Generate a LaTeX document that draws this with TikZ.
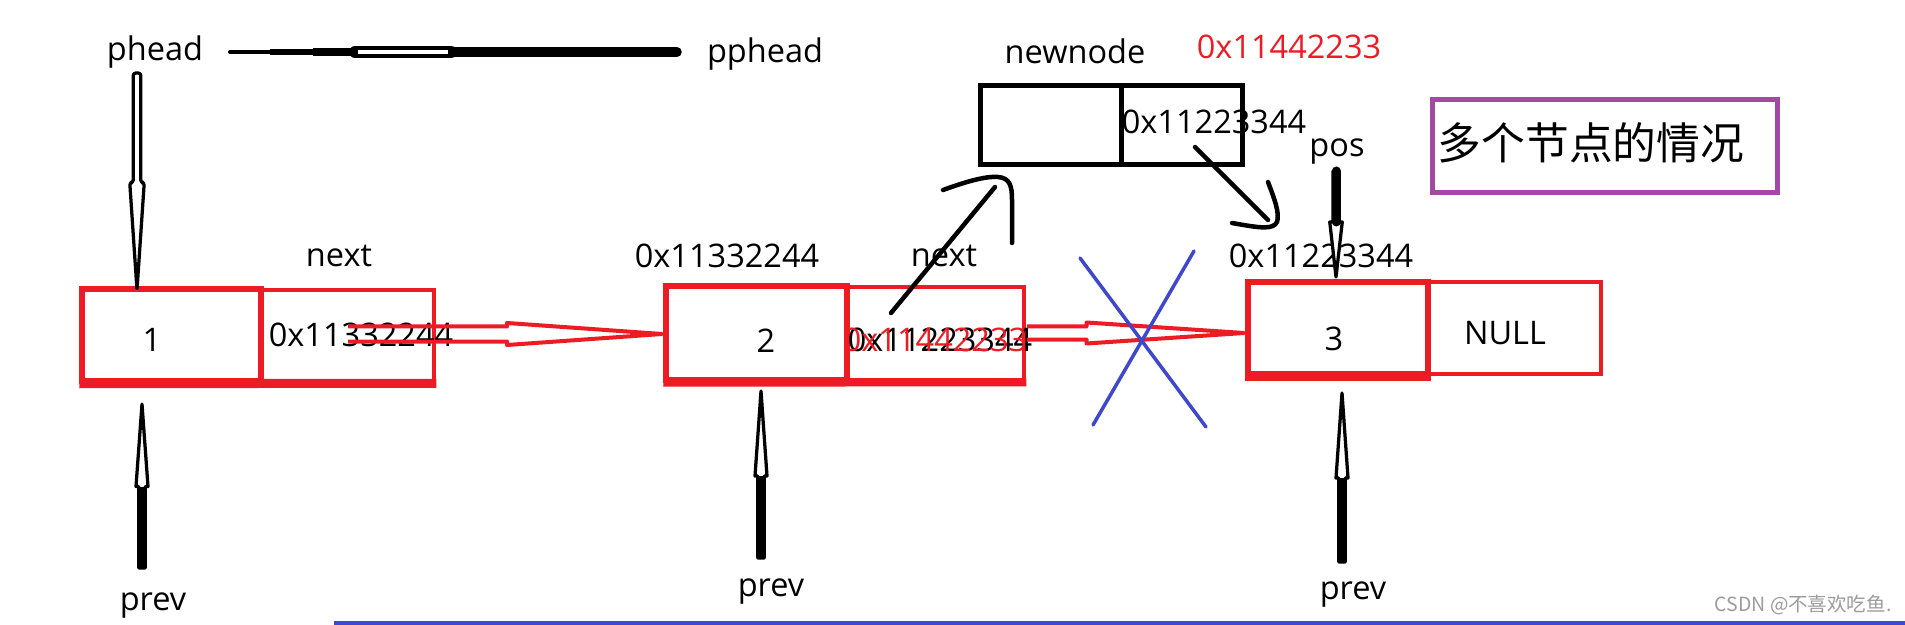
\documentclass[tikz,border=0pt]{standalone}
\usepackage{fontspec}
\setmainfont{Open Sans}
\newfontfamily\cjk{Noto Sans CJK SC}
\usetikzlibrary{calc,fit}
\definecolor{pred}{HTML}{ED1C24}
\definecolor{pblue}{HTML}{3F48CC}
\definecolor{ppurple}{HTML}{A349A4}
\definecolor{wmgray}{HTML}{9C9C9C}
% block (outlined) arrow: #1 style, #2 start, #3 tip, #4 shaft half, #5 head half, #6 head length, #7 closing
\newcommand\blockarr[7]{%
  \coordinate (baseB) at ($(#3)!#6!(#2)$);
  \draw[#1] ($(#2)!#4!90:(#3)$) -- ($(baseB)!#4!90:(#3)$) -- ($(baseB)!#5!90:(#3)$) -- (#3)
    -- ($(baseB)!#5!-90:(#3)$) -- ($(baseB)!#4!-90:(#3)$) -- ($(#2)!#4!-90:(#3)$) #7;
}
\tikzset{
  lbl/.style={inner sep=0pt, font=\fontsize{13}{15}\selectfont},
  cellL/.style={draw=pred, line width=2.2pt, inner sep=0pt},
  cellR/.style={draw=pred, line width=1.8pt, inner sep=0pt},
  blkcell/.style={draw=black, line width=2pt, inner sep=0pt},
  hollowblk/.style={draw=black, fill=white, line width=1.3pt, line join=round},
  redarr/.style={draw=pred, line width=1.6pt, line join=round},
  hand/.style={draw=black, line width=1.8pt, line cap=round, line join=round},
  cross/.style={draw=pblue, line width=1.4pt, line cap=round},
}
\begin{document}
\begin{tikzpicture}[x=0.4pt,y=-0.4pt]
\useasboundingbox (0,0) rectangle (1905,625);
\fill[white] (0,0) rectangle (1905,625);

% ---- list nodes (cells)
\node[cellL, fit={(82,289) (261,381)}] (n1a) {};
\node[cellR, fit={(261,290) (434,381)}] (n1b) {};
\draw[pred, line width=3.6pt] (n1a.south west) -- (n1b.south east);
\node[cellL, fit={(666,286) (847,380)}] (n2a) {};
\node[cellR, fit={(847,287) (1024,380)}] (n2b) {};
\draw[pred, line width=3.2pt] (n2a.south west) -- (n2b.south east);
\node[cellL, fit={(1248,282) (1428,374)}] (n3a) {};
\node[cellR, fit={(1428,282) (1601,374)}] (n3b) {};
\draw[pred, line width=3.2pt] (n3a.south west) -- (n3a.south east);
\node[blkcell, fit={(980.5,85.5) (1121,164.5)}] (nna) {};
\node[blkcell, fit={(1121,85.5) (1242.5,164.5)}] (nnb) {};

% ---- title box
\node[draw=ppurple, line width=2pt, inner sep=0pt, fit={(1432.5,99.5) (1777.5,192.5)}] (titlebox) {};
\node[inner sep=0pt, font=\cjk\fontsize{17.5}{20}\selectfont] (title) at (1591,143) {多个节点的情况};

% ---- labels
\node[lbl] (phead) at (155,52) {phead};
\node[lbl] (pphead) at (765,54) {pphead};
\node[lbl] (newnode) at (1075,51) {newnode};
\node[lbl, text=pred] (addrnew) at (1289,47) {0x11442233};
\node[lbl] (pos) at (1337,152) {pos};
\node[lbl] (next1) at (339,256) {next};
\node[lbl] (addr2) at (727,256) {0x11332244};
\node[lbl] (next2) at (944,256) {next};
\node[lbl] (addr3) at (1321,256) {0x11223344};
\node[lbl] (v1) at (152,340) {1};
\node[lbl] (v2) at (766,341) {2};
\node[lbl] (v3) at (1334,339) {3};
\node[lbl] (null) at (1505,333) {NULL};
\node[lbl] (n1next) at (361,335) {0x11332244};
\node[lbl] (n2old) at (940,340) {0x11223344};
\node[lbl, text=pred] (n2new) at (935,340) {0x11442233};
\node[lbl] (nnnext) at (1214,122) {0x11223344};
\node[lbl] (prev1) at (153,606) {prev};
\node[lbl] (prev2) at (771,592) {prev};
\node[lbl] (prev3) at (1353,595) {prev};
\node[inner sep=0pt, text=wmgray, font=\cjk\fontsize{7.8}{9}\selectfont] (wm) at (1803,605) {CSDN @不喜欢吃鱼.};

% ---- red hollow arrows between list nodes
\coordinate (r1s) at (348,334);
\coordinate (r1t) at (662,334);
\blockarr{redarr}{r1s}{r1t}{3pt}{4.4pt}{62pt}{}
\coordinate (r2s) at (1027,333);
\coordinate (r2t) at (1244,333);
\blockarr{redarr}{r2s}{r2t}{2.6pt}{4.2pt}{63pt}{}

% ---- phead -> pphead line
\coordinate (pl0) at (230,52);
\coordinate (pl1) at (270,52);
\coordinate (pl2) at (313,52);
\coordinate (pl3) at (355,52);
\coordinate (pl4) at (451,52);
\coordinate (pl5) at (677,52);
\draw[line width=1.6pt, line cap=round] (pl0) -- (pl1);
\draw[line width=2.3pt] (pl1) -- (pl2);
\draw[line width=2.9pt] (pl2) -- (pl3);
\draw[line width=3.8pt, line cap=round] (pl4) -- (pl5);
\draw[line width=4.8pt, line cap=round] (pl3) -- (pl4);
\draw[white, line width=1.3pt] ($(pl3)+(3,0)$) -- ($(pl4)+(-3,0)$);

% ---- phead down arrow
\coordinate (pa1s) at (137,73);
\coordinate (pa1t) at (137,290);
\blockarr{hollowblk, rounded corners=1pt}{pa1s}{pa1t}{1.5pt}{2.9pt}{43pt}{-- cycle}

% ---- prev up arrows
\coordinate (pv1s) at (142,568);
\coordinate (pv1t) at (142,404);
\blockarr{hollowblk}{pv1s}{pv1t}{1.3pt}{2.4pt}{33pt}{-- cycle}
\draw[line width=4pt] (pv1s) -- ($(pv1t)!33pt!(pv1s)$);
\coordinate (pv2s) at (761,558);
\coordinate (pv2t) at (761,391);
\blockarr{hollowblk}{pv2s}{pv2t}{1.3pt}{2.4pt}{34pt}{-- cycle}
\draw[line width=4pt] (pv2s) -- ($(pv2t)!34pt!(pv2s)$);
\coordinate (pv3s) at (1342,562);
\coordinate (pv3t) at (1342,393);
\blockarr{hollowblk}{pv3s}{pv3t}{1.3pt}{2.4pt}{34pt}{-- cycle}
\draw[line width=4pt] (pv3s) -- ($(pv3t)!34pt!(pv3s)$);

% ---- pos down arrow
\coordinate (ps) at (1336,171);
\coordinate (pt) at (1336,277);
\blockarr{hollowblk}{ps}{pt}{1.2pt}{2.5pt}{22pt}{-- cycle}
\draw[line width=3.6pt, line cap=round] (ps) -- ($(pt)!22pt!(ps)$);

% ---- hand-drawn arrows
\coordinate (ha1) at (891,313);
\coordinate (ha2) at (995,187);
\draw[hand] (ha1) -- (ha2);
\draw[hand] (943,190) .. controls (965,182) and (985,176) .. (998,177)
  .. controls (1010,178) and (1012,186) .. (1012,200) -- (1012,243);
\coordinate (hb1) at (1195,147);
\coordinate (hb2) at (1268,220);
\draw[hand] (hb1) -- (hb2);
\draw[hand] (1268,182) .. controls (1274,198) and (1280,213) .. (1277,222)
  .. controls (1273,230) and (1260,228) .. (1232,223);

% ---- blue cross
\coordinate (x1a) at (1080,258);
\coordinate (x1b) at (1206,427);
\coordinate (x2a) at (1194,251);
\coordinate (x2b) at (1093,425);
\draw[cross] (x1a) -- (x1b);
\draw[cross] (x2a) -- (x2b);

% ---- bottom blue line
\coordinate (bl0) at (334,622.5);
\coordinate (bl1) at (1905,622.5);
\draw[pblue, line width=1.6pt] (bl0) -- (bl1);
\end{tikzpicture}
\end{document}
